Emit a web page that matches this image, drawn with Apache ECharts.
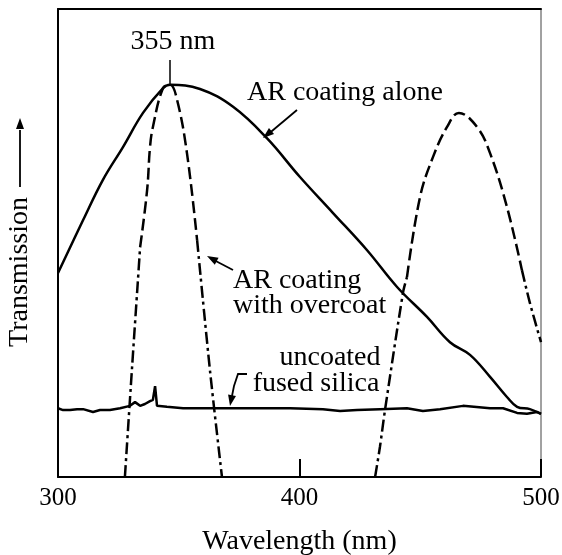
<!DOCTYPE html>
<html>
<head>
<meta charset="UTF-8">
<script src="https://cdn.jsdelivr.net/npm/echarts@6/dist/echarts.min.js"></script>
<style>
  html, body { margin: 0; padding: 0; background: #fff; }
  #main { width: 562px; height: 555px; }
</style>
</head>
<body>
<div id="main"></div>
<script>
// wavelength (nm), transmission (arbitrary, 0-100)
var arAlone = [[300,43.6],[310.4,54.9],[318.6,63.5],[326.9,70.5],[335.2,77.8],[343.5,83.1],[346.4,83.8],
  [358.8,82.9],[372.5,79.1],[386.5,72.4],[400.2,64.1],[413.9,56.4],[427.9,48.5],[440.4,40.6],[452.8,34.2],
  [462.3,28.8],[470.6,26.1],[478.9,21.4],[485.9,17.1],[490.1,15.0],[495.4,14.5],[500,13.5]];

var overcoatLeft = [[327.7,0],[330.6,22.9],[333.1,42.1],[334.0,49.1],[336.9,61.3],[338.1,70.5],[339.3,74.8],
  [343.5,83.1],[346.4,83.8],[349.3,80.6],[353.4,69.2],[357.6,50.6],[362.9,22.9],[367.9,0]];

var overcoatRight = [[431.3,0],[433.3,6.4],[435.4,14.3],[442.9,39.5],[444.5,42.7],[449.9,59.8],[455.3,68.4],
  [461.1,74.8],[466.0,77.8],[473.5,74.8],[478.9,69.2],[485.9,57.7],[492.1,44.2],[495.4,37.2],[500,28.8]];

var uncoated = [[300,14.7],[302.1,14.3],[305,14.3],[307.9,14.5],[310.4,14.5],[314.5,13.9],[317.4,14.3],
  [321.5,14.3],[325.7,14.7],[329.8,15.2],[331.9,16.0],[334.0,15.2],[336.0,15.6],[338.1,16.2],[339.3,16.5],
  [340.2,19.4],[341.0,15.2],[345.1,15.0],[351.8,14.7],[362.9,14.7],[372.5,14.7],[386.5,14.7],[396.1,14.7],
  [409.7,14.5],[416.8,14.1],[423.8,14.3],[433.3,14.5],[444.5,14.7],[451.1,14.1],[458.2,14.5],[467.7,15.2],
  [478.9,14.7],[484.3,14.7],[490.1,13.7],[494.2,13.5],[498.3,13.9],[500,13.5]];

var xTicks = [300, 400, 500];

var serif = '"Liberation Serif", "DejaVu Serif", serif';
var dashed = [12, 5];
var dashDot = [12, 4, 3, 4];

function lineSeries(data, type, smooth) {
  return {
    type: 'line', data: data, symbol: 'none', smooth: smooth, silent: true,
    lineStyle: { color: '#000', width: 2.5, type: type }
  };
}

function arrowHead(x1, y1, x2, y2) {
  var dx = x2 - x1, dy = y2 - y1, len = Math.sqrt(dx * dx + dy * dy);
  dx /= len; dy /= len;
  var bx = x2 - 11 * dx, by = y2 - 11 * dy;
  return {
    type: 'polygon',
    shape: { points: [[x2, y2], [bx - 4 * dy, by + 4 * dx], [bx + 4 * dy, by - 4 * dx]] },
    style: { fill: '#000' }
  };
}

function seg(x1, y1, x2, y2, w) {
  return { type: 'line', shape: { x1: x1, y1: y1, x2: x2, y2: y2 }, style: { stroke: '#000', lineWidth: w || 1.8 } };
}

function label(txt, x, y, align) {
  return {
    type: 'text', x: x, y: y,
    style: { text: txt, font: '28px ' + serif, fill: '#000', align: align || 'left', verticalAlign: 'middle' }
  };
}

var chart = echarts.init(document.getElementById('main'));

var option = {
  backgroundColor: '#fff',
  animation: false,
  grid: { left: 58, right: 21, top: 9, bottom: 78, show: true, borderColor: '#444', borderWidth: 1,
    containLabel: false, outerBoundsMode: 'none' },
  xAxis: [{
    type: 'value', min: 300, max: 500, interval: 100,
    name: 'Wavelength (nm)', nameLocation: 'middle', nameGap: 51,
    nameTextStyle: { fontFamily: serif, fontSize: 28, color: '#000' },
    axisLine: { lineStyle: { color: '#000', width: 2 } },
    axisTick: { inside: true, length: 18, lineStyle: { color: '#000', width: 2 } },
    axisLabel: { fontFamily: serif, fontSize: 25, color: '#000', margin: 9,
      formatter: function (v) { return xTicks.indexOf(v) >= 0 ? String(v) : ''; } },
    splitLine: { show: false }
  }, {
    type: 'value', position: 'top', min: 300, max: 500,
    axisLine: { lineStyle: { color: '#000', width: 2 } },
    axisTick: { show: false }, axisLabel: { show: false }, splitLine: { show: false }
  }],
  yAxis: {
    type: 'value', min: 0, max: 100,
    axisLine: { show: true, lineStyle: { color: '#000', width: 2 } },
    axisTick: { show: false }, axisLabel: { show: false }, splitLine: { show: false }
  },
  series: [
    lineSeries(arAlone, 'solid', 0.4),
    lineSeries(overcoatLeft.slice(0, 4), dashDot, 0.3),
    lineSeries(overcoatLeft.slice(3, 12), dashed, 0.4),
    lineSeries(overcoatLeft.slice(11), dashDot, 0.3),
    lineSeries(overcoatRight.slice(0, 5), dashDot, 0.3),
    lineSeries(overcoatRight.slice(4, 13), dashed, 0.4),
    lineSeries(overcoatRight.slice(12), dashDot, 0.3),
    lineSeries(uncoated, 'solid', false)
  ],
  graphic: [
    label('355 nm', 173, 42, 'center'),
    seg(170, 60, 170, 85, 1.5),
    label('AR coating alone', 247, 93),
    seg(297, 110, 266, 136), arrowHead(297, 110, 263, 138),
    label('AR coating', 233, 281),
    label('with overcoat', 233, 306),
    seg(233, 270, 210, 258), arrowHead(233, 270, 207, 256),
    label('uncoated', 330, 358, 'center'),
    label('fused silica', 316, 384, 'center'),
    { type: 'polyline', shape: { points: [[247, 374], [238, 374], [234, 386], [232, 396]] },
      style: { stroke: '#000', lineWidth: 1.8, fill: null } },
    arrowHead(233, 390, 230, 406),
    {
      type: 'text', x: 20, y: 272, rotation: Math.PI / 2,
      style: { text: 'Transmission', font: '28px ' + serif, fill: '#000', align: 'center', verticalAlign: 'middle' }
    },
    seg(20, 187, 20, 130), arrowHead(20, 187, 20, 118)
  ]
};

chart.setOption(option);
</script>
</body>
</html>
